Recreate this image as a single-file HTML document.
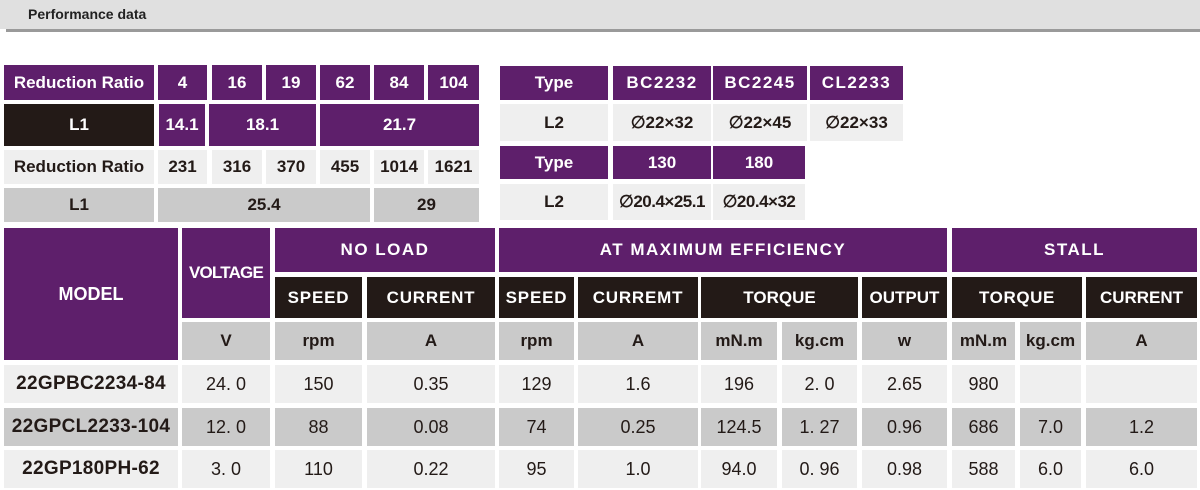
<!DOCTYPE html>
<html><head><meta charset="utf-8"><style>
body{margin:0;width:1200px;height:490px;background:#fff;position:relative;overflow:hidden;font-family:"Liberation Sans",Arial,sans-serif}
.c{position:absolute;display:flex;align-items:center;justify-content:center;box-sizing:border-box;white-space:nowrap}
.p{background:#5e1f6b;color:#fff;font-weight:bold;font-size:17px}
.k{background:#231a17;color:#fff;font-weight:bold;font-size:17px}
.l{background:#efefef;color:#231a17;font-weight:bold;font-size:17px}
.g{background:#cacaca;color:#231a17;font-weight:bold;font-size:17px}
.n{font-weight:normal;font-size:18px}
.m{font-size:19px;letter-spacing:0.3px}
.sp{letter-spacing:1.5px}
</style></head><body>
<div style="position:absolute;left:0;top:0;width:1200px;height:29px;background:#e0e0e0"></div>
<div style="position:absolute;left:6px;top:29px;width:1194px;height:3px;background:#9a9a9a"></div>
<div style="position:absolute;left:28px;top:6px;font-weight:bold;font-size:14px;color:#222">Performance data</div>

<!-- top left -->
<div class="c p" style="left:4px;top:65px;width:150px;height:35px">Reduction Ratio</div>
<div class="c p" style="left:158px;top:65px;width:49px;height:35px">4</div>
<div class="c p" style="left:212px;top:65px;width:50px;height:35px">16</div>
<div class="c p" style="left:266px;top:65px;width:50px;height:35px">19</div>
<div class="c p" style="left:320px;top:65px;width:50px;height:35px">62</div>
<div class="c p" style="left:374px;top:65px;width:50px;height:35px">84</div>
<div class="c p" style="left:428px;top:65px;width:51px;height:35px">104</div>
<div class="c k" style="left:4px;top:104px;width:150px;height:42px">L1</div>
<div class="c p" style="left:159px;top:104px;width:46px;height:42px">14.1</div>
<div class="c p" style="left:209px;top:104px;width:107px;height:42px">18.1</div>
<div class="c p" style="left:320px;top:104px;width:159px;height:42px">21.7</div>
<div class="c l" style="left:4px;top:150px;width:150px;height:34px">Reduction Ratio</div>
<div class="c l" style="left:158px;top:150px;width:49px;height:34px">231</div>
<div class="c l" style="left:212px;top:150px;width:50px;height:34px">316</div>
<div class="c l" style="left:266px;top:150px;width:50px;height:34px">370</div>
<div class="c l" style="left:320px;top:150px;width:50px;height:34px">455</div>
<div class="c l" style="left:374px;top:150px;width:50px;height:34px">1014</div>
<div class="c l" style="left:428px;top:150px;width:51px;height:34px">1621</div>
<div class="c g" style="left:4px;top:188px;width:150px;height:34px">L1</div>
<div class="c g" style="left:158px;top:188px;width:212px;height:34px">25.4</div>
<div class="c g" style="left:374px;top:188px;width:105px;height:34px">29</div>

<!-- top right -->
<div class="c p" style="left:500px;top:66px;width:108px;height:34px">Type</div>
<div class="c p sp" style="left:613px;top:66px;width:98px;height:34px">BC2232</div>
<div class="c p sp" style="left:713px;top:66px;width:94px;height:34px">BC2245</div>
<div class="c p sp" style="left:810px;top:66px;width:93px;height:34px">CL2233</div>
<div class="c l" style="left:500px;top:104px;width:108px;height:37px">L2</div>
<div class="c l" style="left:613px;top:104px;width:98px;height:37px">∅22×32</div>
<div class="c l" style="left:713px;top:104px;width:94px;height:37px">∅22×45</div>
<div class="c l" style="left:810px;top:104px;width:93px;height:37px">∅22×33</div>
<div class="c p" style="left:500px;top:146px;width:108px;height:33px">Type</div>
<div class="c p" style="left:613px;top:146px;width:98px;height:33px">130</div>
<div class="c p" style="left:713px;top:146px;width:92px;height:33px">180</div>
<div class="c l" style="left:500px;top:184px;width:108px;height:36px">L2</div>
<div class="c l" style="left:613px;top:184px;width:98px;height:36px;letter-spacing:-0.5px">∅20.4×25.1</div>
<div class="c l" style="left:713px;top:184px;width:92px;height:36px;letter-spacing:-0.5px">∅20.4×32</div>

<!-- bottom -->
<div class="c p" style="left:4px;top:228px;width:174px;height:132px;font-size:18px">MODEL</div>
<div class="c p" style="left:182px;top:228px;width:88px;height:90px;letter-spacing:-0.8px">VOLTAGE</div>
<div class="c p sp" style="left:275px;top:228px;width:220px;height:44px">NO LOAD</div>
<div class="c p sp" style="left:499px;top:228px;width:448px;height:44px">AT MAXIMUM EFFICIENCY</div>
<div class="c p sp" style="left:952px;top:228px;width:245px;height:44px">STALL</div>

<div class="c k sp" style="left:275px;top:277px;width:87px;height:41px;letter-spacing:0.8px">SPEED</div>
<div class="c k" style="left:367px;top:277px;width:128px;height:41px;letter-spacing:0.8px">CURRENT</div>
<div class="c k" style="left:499px;top:277px;width:75px;height:41px;letter-spacing:0.8px">SPEED</div>
<div class="c k" style="left:578px;top:277px;width:120px;height:41px;letter-spacing:0.8px">CURREMT</div>
<div class="c k" style="left:701px;top:277px;width:157px;height:41px">TORQUE</div>
<div class="c k" style="left:862px;top:277px;width:85px;height:41px">OUTPUT</div>
<div class="c k" style="left:952px;top:277px;width:130px;height:41px;letter-spacing:0.6px">TORQUE</div>
<div class="c k" style="left:1086px;top:277px;width:111px;height:41px">CURRENT</div>

<div class="c g" style="left:182px;top:322px;width:88px;height:38px">V</div>
<div class="c g" style="left:275px;top:322px;width:87px;height:38px">rpm</div>
<div class="c g" style="left:367px;top:322px;width:128px;height:38px">A</div>
<div class="c g" style="left:499px;top:322px;width:75px;height:38px">rpm</div>
<div class="c g" style="left:578px;top:322px;width:120px;height:38px">A</div>
<div class="c g" style="left:701px;top:322px;width:76px;height:38px">mN.m</div>
<div class="c g" style="left:782px;top:322px;width:75px;height:38px">kg.cm</div>
<div class="c g" style="left:862px;top:322px;width:85px;height:38px">w</div>
<div class="c g" style="left:952px;top:322px;width:63px;height:38px">mN.m</div>
<div class="c g" style="left:1020px;top:322px;width:61px;height:38px">kg.cm</div>
<div class="c g" style="left:1086px;top:322px;width:111px;height:38px">A</div>

<!-- row 1 -->
<div class="c l m" style="left:4px;top:365px;width:174px;height:38px">22GPBC2234-84</div>
<div class="c l n" style="left:182px;top:365px;width:88px;height:38px">24. 0</div>
<div class="c l n" style="left:275px;top:365px;width:87px;height:38px">150</div>
<div class="c l n" style="left:367px;top:365px;width:128px;height:38px">0.35</div>
<div class="c l n" style="left:499px;top:365px;width:75px;height:38px">129</div>
<div class="c l n" style="left:578px;top:365px;width:120px;height:38px">1.6</div>
<div class="c l n" style="left:701px;top:365px;width:76px;height:38px">196</div>
<div class="c l n" style="left:782px;top:365px;width:75px;height:38px">2. 0</div>
<div class="c l n" style="left:862px;top:365px;width:85px;height:38px">2.65</div>
<div class="c l n" style="left:952px;top:365px;width:63px;height:38px">980</div>
<div class="c l n" style="left:1020px;top:365px;width:61px;height:38px"></div>
<div class="c l n" style="left:1086px;top:365px;width:111px;height:38px"></div>
<!-- row 2 -->
<div class="c g m" style="left:4px;top:408px;width:174px;height:38px">22GPCL2233-104</div>
<div class="c g n" style="left:182px;top:408px;width:88px;height:38px">12. 0</div>
<div class="c g n" style="left:275px;top:408px;width:87px;height:38px">88</div>
<div class="c g n" style="left:367px;top:408px;width:128px;height:38px">0.08</div>
<div class="c g n" style="left:499px;top:408px;width:75px;height:38px">74</div>
<div class="c g n" style="left:578px;top:408px;width:120px;height:38px">0.25</div>
<div class="c g n" style="left:701px;top:408px;width:76px;height:38px">124.5</div>
<div class="c g n" style="left:782px;top:408px;width:75px;height:38px">1. 27</div>
<div class="c g n" style="left:862px;top:408px;width:85px;height:38px">0.96</div>
<div class="c g n" style="left:952px;top:408px;width:63px;height:38px">686</div>
<div class="c g n" style="left:1020px;top:408px;width:61px;height:38px">7.0</div>
<div class="c g n" style="left:1086px;top:408px;width:111px;height:38px">1.2</div>
<!-- row 3 -->
<div class="c l m" style="left:4px;top:450px;width:174px;height:38px">22GP180PH-62</div>
<div class="c l n" style="left:182px;top:450px;width:88px;height:38px">3. 0</div>
<div class="c l n" style="left:275px;top:450px;width:87px;height:38px">110</div>
<div class="c l n" style="left:367px;top:450px;width:128px;height:38px">0.22</div>
<div class="c l n" style="left:499px;top:450px;width:75px;height:38px">95</div>
<div class="c l n" style="left:578px;top:450px;width:120px;height:38px">1.0</div>
<div class="c l n" style="left:701px;top:450px;width:76px;height:38px">94.0</div>
<div class="c l n" style="left:782px;top:450px;width:75px;height:38px">0. 96</div>
<div class="c l n" style="left:862px;top:450px;width:85px;height:38px">0.98</div>
<div class="c l n" style="left:952px;top:450px;width:63px;height:38px">588</div>
<div class="c l n" style="left:1020px;top:450px;width:61px;height:38px">6.0</div>
<div class="c l n" style="left:1086px;top:450px;width:111px;height:38px">6.0</div>
</body></html>
